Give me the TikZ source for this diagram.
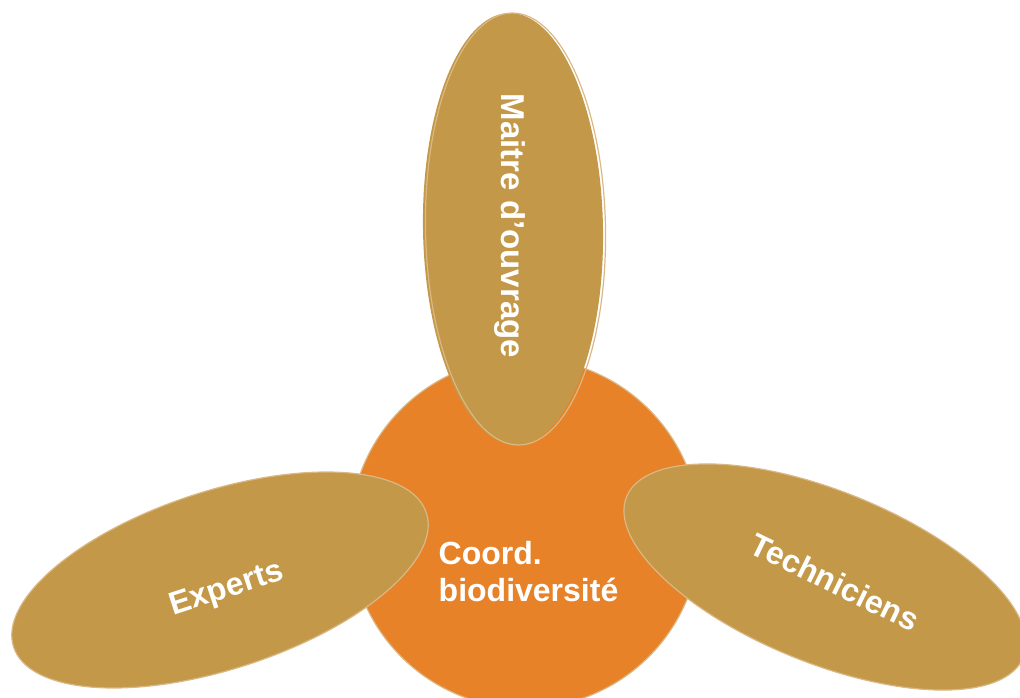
\documentclass[tikz,border=0pt]{standalone}
\usepackage{fontspec}
\setmainfont{Liberation Sans}
\usetikzlibrary{shapes.geometric}
\definecolor{petal}{RGB}{195,152,72}
\definecolor{hub}{RGB}{232,130,40}
\definecolor{rim}{RGB}{218,184,134}
\begin{document}
\begin{tikzpicture}[x=1pt,y=-1pt,
  petalshape/.style={ellipse,fill=petal,draw=rim,line width=1.2pt,inner sep=0pt,outer sep=0pt},
  hubshape/.style={circle,fill=hub,draw=rim,line width=1.2pt,inner sep=0pt,outer sep=0pt,minimum size=350pt},
  label/.style={text=white,font=\fontsize{32}{37}\selectfont\bfseries,inner sep=0pt}]
\useasboundingbox (0,0) rectangle (1020,698);
\clip (0,0) rectangle (1020,698);
% central circle
\node[hubshape] (hub) at (525,533) {};
% upper petal: fill, with its outline set slightly to the right
\node[petalshape,draw=none,minimum width=180pt,minimum height=432pt,rotate=1] (top) at (513,229) {};
\node[ellipse,draw=rim,line width=1.2pt,inner sep=0pt,outer sep=0pt,minimum width=180pt,minimum height=432pt,rotate=1] (topoutline) at (515.5,229) {};
% side petals
\node[petalshape,minimum width=434pt,minimum height=178pt,rotate=18] (left) at (220,580) {};
\node[petalshape,minimum width=428pt,minimum height=172pt,rotate=-22] (right) at (825,577) {};
% labels
\node[label,font=\fontsize{33}{38}\selectfont\bfseries,rotate=-90] (toplabel) at (510,226) {Maitre d’ouvrage};
\node[label,rotate=18] (leftlabel) at (227,590) {Experts};
\node[label,rotate=-26] (rightlabel) at (835,582) {Techniciens};
\node[label,align=left] (hublabel) at (528.5,572) {Coord.\\biodiversité};
\end{tikzpicture}
\end{document}
